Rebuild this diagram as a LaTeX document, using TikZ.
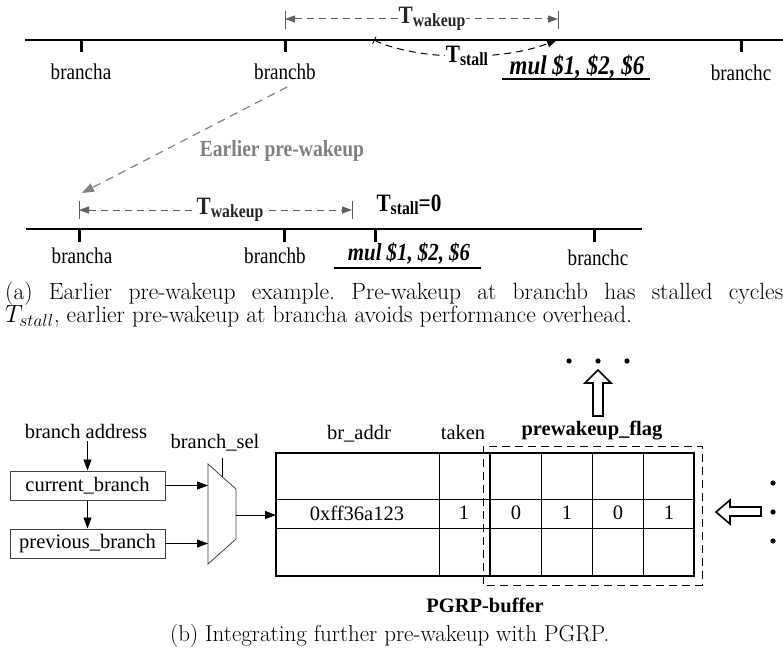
\documentclass[tikz,border=0pt]{standalone}
\usepackage{fontspec}
\newfontfamily\timesfont{Liberation Serif}
\newfontfamily\timesA{Liberation Serif}[FakeStretch=0.85]
\usetikzlibrary{positioning}
\usetikzlibrary{calc}
\usetikzlibrary{arrows.meta}
\newcommand\tsub[1]{{\fontsize{25}{25}\selectfont T}\raisebox{-0.3em}{\fontsize{18.5}{18.5}\selectfont #1}}
\tikzset{
    lbl/.style = {font=\timesfont\fontsize{20.5}{22}\selectfont, inner sep=0pt},
    boldlbl/.style = {font=\timesfont\bfseries\fontsize{20.5}{22}\selectfont, inner sep=0pt},
    lblA/.style = {font=\timesA\fontsize{22.5}{24}\selectfont, inner sep=0pt},
    boldA/.style = {font=\timesA\bfseries\fontsize{23}{24}\selectfont, inner sep=0pt},
    tlbl/.style = {font=\timesA\bfseries, inner sep=1pt},
    instr/.style = {font=\timesA\bfseries\itshape\fontsize{27}{28}\selectfont, inner sep=0pt},
    axis/.style = {line width=1.6pt},
    tickmark/.style = {line width=3pt},
    bar/.style = {line width=0.8pt, gray!70!black},
    span/.style = {gray!75!black, line width=1pt, dash pattern=on 7pt off 5pt,
        {Triangle[length=10pt,width=7pt]}-{Triangle[length=10pt,width=7pt]}},
    stall/.style = {line width=1pt, dash pattern=on 7pt off 5pt,
        {Bar[width=8pt,line width=0.8pt]}-{Triangle[length=10pt,width=7pt]}},
    earlier/.style = {gray, line width=1.2pt, dash pattern=on 8pt off 6pt,
        -{Triangle[length=12pt,width=9pt]}},
    sig/.style = {line width=0.8pt, -{Triangle[length=11pt,width=8pt]}},
    regbox/.style = {draw=black!75, line width=1pt, minimum width=155pt, minimum height=29pt,
        inner sep=0pt, font=\timesfont\fontsize{20.5}{22}\selectfont},
    thin/.style = {line width=0.8pt},
    thick line/.style = {line width=2.4pt},
    hollow/.style = {draw, line width=1.6pt, fill=white, line join=miter},
    caption/.style = {inner sep=0pt, font=\frenchspacing\fontsize{23.5}{22}\selectfont}}

\begin{document}
\begin{tikzpicture}[x=1pt,y=-1pt]
        \useasboundingbox (0,0) rectangle (783,650);
        % upper timeline
        \path (25,40) coordinate (U0) ++ (758,0) coordinate (U1);
        \path (81,40) coordinate (ua)
        (285,40) coordinate (ub)
        (741,40) coordinate (uc)
        (374,40) coordinate (us)
        (557,40) coordinate (um);
        \draw[axis] (U0) -- (U1);
        \draw[tickmark] (ua) -- ++(0,12) (ub) -- ++(0,12) (uc) -- ++(0,12);
        \node[lblA] (brA) at (81,72) {brancha};
        \node[lblA] (brB) at (285,72) {branchb};
        \node[lblA] (brC) at (741,73) {branchc};
        \path (285,11) coordinate (wb1) (285,29) coordinate (wb2)
        (558,11) coordinate (wb3) (558,29) coordinate (wb4)
        (285,19) coordinate (wa1) (558,19) coordinate (wa2);
        \draw[bar] (wb1) -- (wb2) (wb3) -- (wb4);
        \draw[span] (wa1) -- (wa2);
        \node[tlbl, fill=white, text=black!85] (tw1) at (432,19) {\tsub{wakeup}};
        \draw[stall] (us) .. controls (415,60) and (500,62) .. (um);
        \node[tlbl, fill=white] (ts1) at (467,56) {\tsub{stall}};
        \node[instr] (mul1) at (577,67) {mul \$1, \$2, \$6};
        \path (502,79) coordinate (ul1) (650,79) coordinate (ul2);
        \draw[line width=1.2pt] (ul1) -- (ul2);
        % earlier pre-wakeup
        \path (287,87) coordinate (e0) (82,193) coordinate (e1);
        \draw[earlier] (e0) -- (e1);
        \node[boldA, text=gray] (early) at (282,151) {Earlier pre-wakeup};
        % lower timeline
        \path (26,229) coordinate (L0) ++ (616,0) coordinate (L1);
        \path (79,229) coordinate (la)
        (284,229) coordinate (lb)
        (375,229) coordinate (lm)
        (594,229) coordinate (lc);
        \draw[axis] (L0) -- (L1);
        \draw[tickmark] (la) -- ++(0,13) (lb) -- ++(0,13) (lm) -- ++(0,13) (lc) -- ++(0,13);
        \path (79,201) coordinate (vb1) (79,219) coordinate (vb2)
        (352,201) coordinate (vb3) (352,219) coordinate (vb4)
        (79,210) coordinate (va1) (352,210) coordinate (va2);
        \draw[bar] (vb1) -- (vb2) (vb3) -- (vb4);
        \draw[span] (va1) -- (va2);
        \node[tlbl, fill=white, text=black!85] (tw2) at (230,210) {\tsub{wakeup}};
        \node[tlbl] (ts2) at (409,205) {\tsub{stall}{\fontsize{25}{25}\selectfont =0}};
        \node[lblA] (brA2) at (82,256) {brancha};
        \node[lblA] (brB2) at (275,256) {branchb};
        \node[lblA] (brC2) at (598,258) {branchc};
        \node[instr, font=\timesA\bfseries\itshape\fontsize{24.5}{26}\selectfont] (mul2) at (409,254) {mul \$1, \$2, \$6};
        \path (334,268) coordinate (ul3) (481,268) coordinate (ul4);
        \draw[line width=1.2pt] (ul3) -- (ul4);
        % caption (a)
        \node[caption, anchor=base west, text width=778pt, align=justify] (capA) at (5,299)
        {(a) Earlier pre-wakeup example. Pre-wakeup at branchb has stalled cycles\linebreak
        $T_{stall}$, earlier pre-wakeup at brancha avoids performance overhead.};
        % registers and selector
        \node[lbl] (addr) at (86,431) {branch address};
        \node[regbox] (cur) at (87.5,485.5) {current\_branch};
        \node[regbox] (prev) at (87.5,543.5) {previous\_branch};
        \draw[sig] (cur.north |- addr.south) ++(0,3) -- (cur.north);
        \draw[sig] (cur.south) -- (prev.north);
        \path (208,464) coordinate (m1) (236,489) coordinate (m2)
        (236,539) coordinate (m3) (208,564) coordinate (m4)
        (236,515) coordinate (mout) (222,458) coordinate (msel);
        \draw[thin, black!75] (m1) -- (m2) -- (m3) -- (m4) -- cycle;
        \draw[thin] (msel) -- ($(m1)!0.5!(m2)$);
        \node[lbl] (sel) at (215,443) {branch\_sel};
        \draw[sig] (cur.east) -- (cur.east -| m1);
        \draw[sig] (prev.east) -- (prev.east -| m1);
        % PGRP-buffer
        \path (276,453) coordinate (T0) (694,576) coordinate (T1);
        \draw[sig] (mout) -- (mout -| T0);
        \draw[thin] (276,499) -- (694,499) (276,528) -- (694,528);
        \draw[thin] (439,453) -- (439,576) (541,453) -- (541,576)
        (592,453) -- (592,576) (643,453) -- (643,576);
        \draw[thick line] (490,453) -- (490,576);
        \draw[thick line] (T0) rectangle (T1);
        \draw[thin, dash pattern=on 8pt off 5pt] (483,446) rectangle (702,585);
        \node[lbl] (hdA) at (359,434) {br\_addr};
        \node[lbl] (hdT) at (463,432) {taken};
        \node[boldlbl] (hdF) at (592,431) {prewakeup\_flag};
        \node[lbl] (addrV) at (357,513) {0xff36a123};
        \node[lbl] (takV) at (464,513) {1};
        \node[lbl] (f1) at (516,513) {0};
        \node[lbl] (f2) at (567,513) {1};
        \node[lbl] (f3) at (618,513) {0};
        \node[lbl] (f4) at (669,513) {1};
        \node[boldlbl] (buf) at (485,605) {PGRP-buffer};
        % further entries
        \draw[hollow] (593,416) -- (593,383) -- (585,383) -- (598,370) -- (611,383)
        -- (603,383) -- (603,416) -- cycle;
        \fill (569,361) circle (2.6) (598,361) circle (2.6) (627,361) circle (2.6);
        \draw[hollow] (761,507) -- (730,507) -- (730,500) -- (716,512) -- (730,524)
        -- (730,516) -- (761,516) -- cycle;
        \fill (773,483) circle (2.6) (773,512) circle (2.6) (773,541) circle (2.6);
        % caption (b)
        \node[caption, anchor=base west, font=\fontsize{23}{22}\selectfont] (capB) at (170,641)
        {(b) Integrating further pre-wakeup with PGRP.};
\end{tikzpicture}
\end{document}
